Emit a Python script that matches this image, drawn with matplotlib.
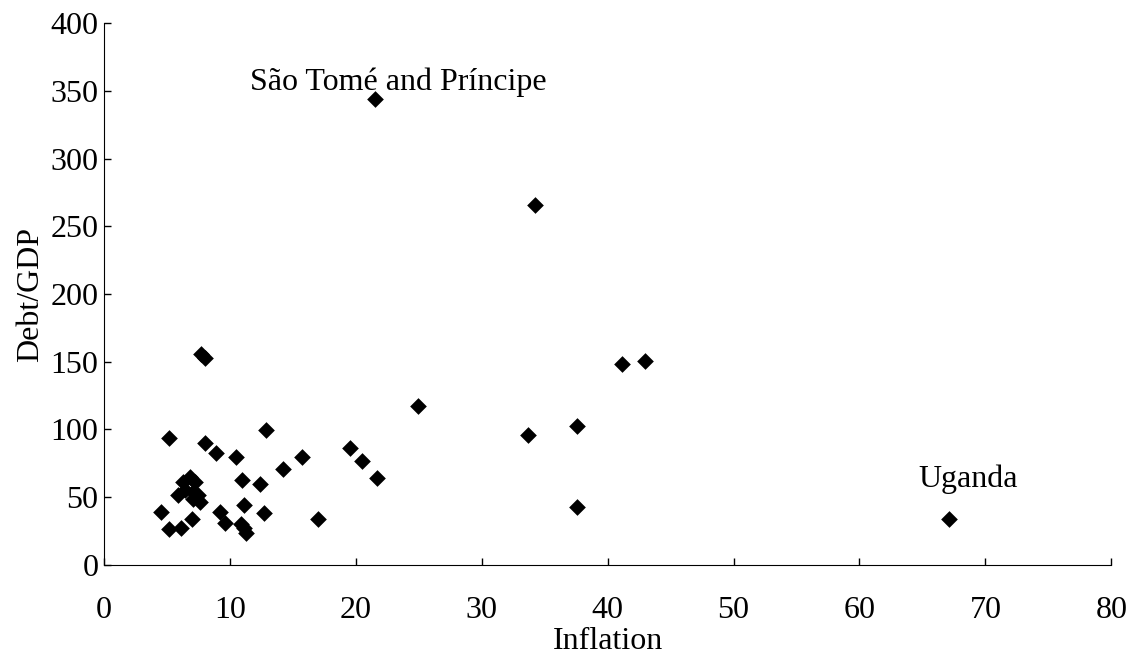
import matplotlib
matplotlib.use("Agg")
import matplotlib.pyplot as plt

inflation = [7.7, 8.0, 5.2, 12.9, 8.0, 8.9, 10.5, 15.7, 14.2, 11.0, 12.4, 17.0,
             11.1, 12.7, 9.2, 9.6, 10.9, 11.1, 11.3, 4.5, 5.2, 6.1, 7.0,
             6.8, 6.3, 7.2, 6.4, 7.1, 5.9, 7.5, 7.6, 7.1,
             21.5, 34.2, 41.1, 43.0, 24.9, 33.7, 37.6, 19.5, 20.5, 21.7, 37.6, 67.1]
debt_gdp = [156, 153, 94, 99.6, 89.7, 82.8, 79.4, 79.4, 71, 62.7, 59.5, 33.7,
            44.5, 38.6, 39.3, 30.7, 30.5, 27, 23.5, 39, 26.5, 27, 33.7,
            65, 61.4, 61.4, 55.3, 54, 51.6, 51.6, 46.5, 48.5,
            344, 265.5, 148.2, 150.4, 117.3, 95.9, 102.7, 86, 76.7, 64.4, 43, 33.7]

labels = ["São Tomé and Príncipe", "Uganda"]
label_pos = [(23.4, 356), (68.6, 63)]

x_ticks = [0, 10, 20, 30, 40, 50, 60, 70, 80]
y_ticks = [0, 50, 100, 150, 200, 250, 300, 350, 400]

plt.rcParams['font.family'] = ['Liberation Serif', 'DejaVu Serif']

fig = plt.figure(figsize=(11.34, 6.6), dpi=100)
ax = fig.add_axes([0.0917, 0.144, 0.8883, 0.821])
ax.scatter(inflation, debt_gdp, marker='D', s=8.5**2, color='black', linewidths=0, zorder=3)

for lab, (lx, ly) in zip(labels, label_pos):
    ax.text(lx, ly, lab, ha='center', va='center', fontsize=23, color='black')

ax.set_xlim(0, 80)
ax.set_ylim(0, 400)
ax.set_xticks(x_ticks)
ax.set_yticks(y_ticks)
ax.spines['top'].set_visible(False)
ax.spines['right'].set_visible(False)
ax.tick_params(direction='in', length=5, labelsize=23, width=1)
ax.tick_params(axis='x', pad=22)
ax.tick_params(axis='y', pad=4)
ax.set_xlabel("Inflation", fontsize=23, labelpad=2)
ax.set_ylabel("Debt/GDP", fontsize=23, labelpad=4)

fig.savefig("out.png", dpi=100)
